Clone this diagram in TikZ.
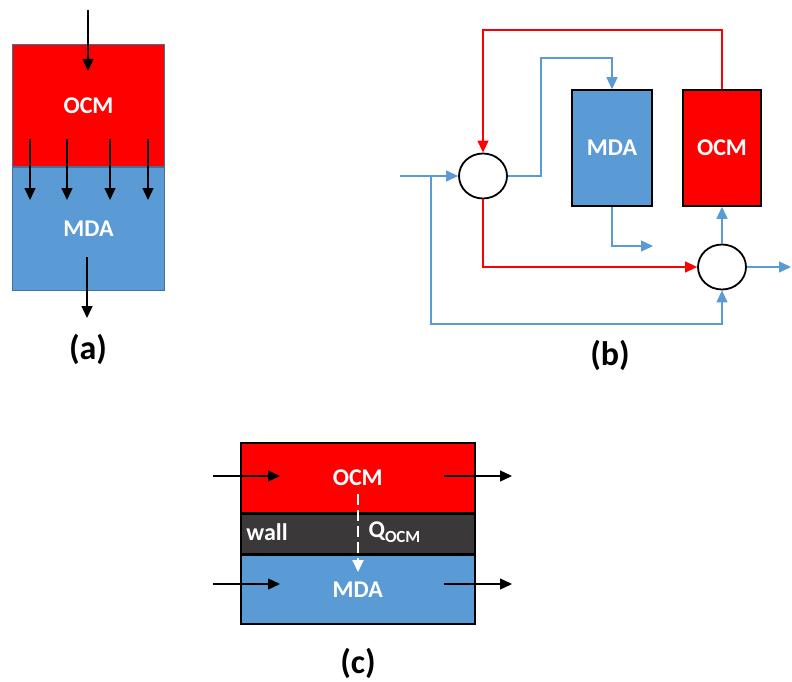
\documentclass[tikz,border=0pt]{standalone}
\usepackage{fontspec}
\setmainfont{Carlito}
\usetikzlibrary{positioning,arrows.meta,calc,shapes.geometric}
\definecolor{rosu}{HTML}{FF0000}
\definecolor{albastru}{HTML}{5B9BD5}
\definecolor{perete}{HTML}{3A3838}
\definecolor{contur}{HTML}{41719C}
\tikzset{
  cutie/.style        = {draw, line width=1.5pt, text=white, inner sep=0pt,
                         font=\fontsize{24}{28}\selectfont\bfseries},
  nod/.style          = {draw, ellipse, line width=1.8pt, minimum width=48pt,
                         minimum height=45pt, inner sep=0pt},
  varf/.style         = {-{Triangle[length=12pt,width=11pt]}},
  fluxnegru/.style    = {varf, line width=1.4pt, black},
  fluxalbastru/.style = {varf, line width=1.3pt, albastru},
  fluxrosu/.style     = {varf, line width=1.3pt, rosu},
  fluxalb/.style      = {varf, line width=2pt, white, dash pattern=on 11pt off 5pt},
  eticheta/.style     = {font=\fontsize{34}{38}\selectfont\bfseries},
  scris/.style        = {text=white, font=\fontsize{24}{28}\selectfont\bfseries}
}

\begin{document}
\begin{tikzpicture}[x=1pt,y=-1pt]
        \useasboundingbox (0,0) rectangle (792,682);

        % (a) reactor in doua straturi
        \node[cutie, draw=contur, line width=1pt, fill=rosu, minimum width=152pt,
              minimum height=122pt, anchor=north west] (ocmA) at (12,44) {OCM};
        \node[cutie, draw=contur, line width=1pt, fill=albastru, minimum width=152pt,
              minimum height=123pt, anchor=north] (mdaA) at (ocmA.south) {MDA};

        \coordinate (intrA) at (88,10);
        \coordinate (capA) at (88,71);
        \coordinate (iesA0) at (87,257);
        \coordinate (iesA1) at (87,318);
        \draw[fluxnegru] (intrA) -- (capA);
        \foreach \x [count=\i] in {30,67,110,148} {
            \coordinate (sus\i) at (\x,139);
            \coordinate (jos\i) at (\x,200);
            \draw[fluxnegru] (sus\i) -- (jos\i);
        }
        \draw[fluxnegru] (iesA0) -- (iesA1);
        \node[eticheta] (lblA) at (88,349) {(a)};

        % (b) schema cu amestecatoare
        \node[nod] (mix1) at (483,176) {};
        \node[cutie, fill=albastru, minimum width=80pt, minimum height=116pt] (mdaB)
            at (612,148) {MDA};
        \node[cutie, fill=rosu, minimum width=78pt, minimum height=116pt] (ocmB)
            at (722,148) {OCM};
        \node[nod] (mix2) at (722,267) {};

        \coordinate (susR) at (483,30);
        \coordinate (susB) at (541,58);
        \coordinate (iesMDA) at (653,246);
        \coordinate (intrB) at (400,176);
        \coordinate (ramif) at (431,176);
        \coordinate (josB) at (431,324);
        \coordinate (iesB) at (791,267);

        \draw[fluxrosu] (ocmB.north) |- (susR) -- (mix1.north);
        \draw[fluxalbastru] (mix1.east) -| (susB) -| (mdaB.north);
        \draw[fluxalbastru] (mdaB.south) |- (iesMDA);
        \draw[fluxalbastru] (intrB) -- (mix1.west);
        \draw[fluxalbastru] (ramif) -- (josB) -| (mix2.south);
        \draw[fluxrosu] (mix1.south) |- (mix2.west);
        \draw[fluxalbastru] (mix2.north) -- (ocmB.south);
        \draw[fluxalbastru] (mix2.east) -- (iesB);
        \node[eticheta] (lblB) at (610,355) {(b)};

        % (c) canale separate de perete
        \node[cutie, fill=rosu, minimum width=234pt, minimum height=70pt,
              anchor=north west] (ocmC) at (240,442) {OCM};
        \node[cutie, fill=perete, minimum width=234pt, minimum height=39pt,
              anchor=north] (perete) at (ocmC.south) {};
        \node[cutie, fill=albastru, minimum width=234pt, minimum height=69pt,
              anchor=north] (mdaC) at (perete.south) {MDA};
        \node[scris] (wall) at (267,532) {wall};
        \node[scris, anchor=west] (qocm) at (365,532)
            {Q\raisebox{-5pt}{\fontsize{17}{19}\selectfont OCM}};

        \coordinate (intrO0) at (213,476);
        \coordinate (intrO1) at (280,476);
        \coordinate (intrM0) at (213,584);
        \coordinate (intrM1) at (280,584);
        \coordinate (iesO0) at (444,476);
        \coordinate (iesO1) at (512,476);
        \coordinate (iesM0) at (444,584);
        \coordinate (iesM1) at (512,584);
        \coordinate (qsus) at (358,494);
        \coordinate (qjos) at (358,572);

        \draw[fluxnegru] (intrO0) -- (intrO1);
        \draw[fluxnegru] (intrM0) -- (intrM1);
        \draw[fluxnegru] (iesO0) -- (iesO1);
        \draw[fluxnegru] (iesM0) -- (iesM1);
        \draw[fluxalb] (qsus) -- (qjos);
        \node[eticheta] (lblC) at (358,663) {(c)};
\end{tikzpicture}
\end{document}
